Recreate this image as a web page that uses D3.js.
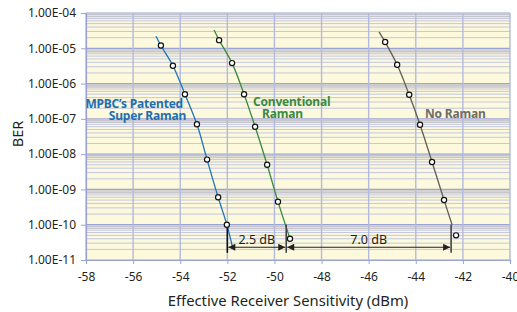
<!DOCTYPE html>
<html>
<head>
<meta charset="utf-8">
<script src="https://cdn.jsdelivr.net/npm/d3@7"></script>
<style>
  body { margin: 0; background: #fff; }
  svg text { font-family: "Noto Sans", "Liberation Sans", sans-serif; fill: #231f20; }
</style>
</head>
<body>
<div id="chart"></div>
<script>
// series values (x = dBm, y = BER)
const superX = [-54.82, -54.31, -53.80, -53.29, -52.86, -52.39, -52.02];
const superY = [1.2e-5, 3.2e-6, 5.0e-7, 7.0e-8, 7.0e-9, 6.0e-10, 1.0e-10];
const convX = [-52.35, -51.80, -51.29, -50.82, -50.31, -49.85, -49.34];
const convY = [1.7e-5, 3.8e-6, 5.0e-7, 6.0e-8, 5.0e-9, 4.5e-10, 4.0e-11];
const noX = [-45.30, -44.79, -44.28, -43.82, -43.31, -42.80, -42.29];
const noY = [1.5e-5, 3.4e-6, 4.8e-7, 6.8e-8, 6.0e-9, 5.0e-10, 5.0e-11];

// where each drawn curve starts and stops (it runs a bit past the markers)
const superEnds = [[-55.03, 2.2e-5], [-51.78, 2.3e-11]];
const convEnds = [[-52.56, 3.3e-5], [-49.34, 4.0e-11]];
const noEnds = [[-45.56, 2.9e-5], [-42.46, 1.0e-10]];

const xTicks = [-58, -56, -54, -52, -50, -48, -46, -44, -42, -40];
const yTicks = [1e-4, 1e-5, 1e-6, 1e-7, 1e-8, 1e-9, 1e-10, 1e-11];

// the dB gaps marked under the curves
const markX = [-52, -49.5, -42.5];
const gapLabels = ['2.5 dB', '7.0 dB'];

const width = 517, height = 312;
const margin = { top: 13, right: 7, bottom: 52, left: 86 };
const iw = width - margin.left - margin.right;
const ih = height - margin.top - margin.bottom;

const x = d3.scaleLinear().domain([-58, -40]).range([0, iw]);
const y = d3.scaleLog().domain([1e-11, 1e-4]).range([ih, 0]);

const svg = d3.select('#chart').append('svg')
  .attr('width', width)
  .attr('height', height);

const g = svg.append('g').attr('transform', `translate(${margin.left},${margin.top})`);

g.append('rect')
  .attr('width', iw).attr('height', ih)
  .attr('fill', '#fdf9dc');

// minor horizontal grid, 2..9 of every decade
const minors = [];
for (let e = -11; e < -4; e++) {
  for (let m = 2; m <= 9; m++) minors.push({ v: m * Math.pow(10, e), m: m });
}
g.append('g').selectAll('line')
  .data(minors)
  .enter().append('line')
  .attr('x1', 0).attr('x2', iw)
  .attr('y1', d => y(d.v)).attr('y2', d => y(d.v))
  .attr('stroke', d => d.m >= 8 ? '#c6c6cc' : '#bcc1e2')
  .attr('stroke-width', d => d.m >= 8 ? 1.5 : 0.9);

// major grid
g.append('g').selectAll('line')
  .data(yTicks)
  .enter().append('line')
  .attr('x1', 0).attr('x2', iw)
  .attr('y1', d => y(d)).attr('y2', d => y(d))
  .attr('stroke', '#9aa3d6')
  .attr('stroke-width', 1.2);

g.append('g').selectAll('line')
  .data(xTicks)
  .enter().append('line')
  .attr('x1', d => x(d)).attr('x2', d => x(d))
  .attr('y1', 0).attr('y2', ih)
  .attr('stroke', '#b4bade')
  .attr('stroke-width', 1.4);

// axes
const xAxis = g.append('g')
  .attr('transform', `translate(0,${ih})`)
  .call(d3.axisBottom(x).tickValues(xTicks).tickSize(4).tickPadding(8).tickFormat(d3.format('d')));
const yAxis = g.append('g')
  .call(d3.axisLeft(y).tickValues(yTicks).tickSize(5).tickPadding(5)
    .tickFormat(d => '1.00E-' + String(-Math.round(Math.log10(d))).padStart(2, '0')));

[xAxis, yAxis].forEach(a => {
  a.select('.domain').attr('stroke', '#9aa3d6').attr('stroke-width', 1.2);
  a.selectAll('.tick line').attr('stroke', '#9aa3d6');
  a.selectAll('.tick text').attr('font-size', 12).style('fill', '#231f20');
});
xAxis.selectAll('.tick text').text(d => '-' + Math.abs(d));

// curves
const line = d3.line()
  .x(d => x(d[0])).y(d => y(d[1]))
  .curve(d3.curveCatmullRom.alpha(0.5));

const series = [
  { xs: superX, ys: superY, ends: superEnds, color: '#1f74b8' },
  { xs: convX, ys: convY, ends: convEnds, color: '#3b8a3e' },
  { xs: noX, ys: noY, ends: noEnds, color: '#5e5e5a' },
];

series.forEach(s => {
  const pts = s.xs.map((v, i) => [v, s.ys[i]]);
  const path = [s.ends[0]].concat(pts);
  const last = pts[pts.length - 1];
  if (s.ends[1][0] !== last[0]) {
    if (s.ends[1][1] < last[1]) path.push(s.ends[1]);
    else path.splice(path.length - 1, 1, s.ends[1]);
  }
  g.append('path')
    .datum(path)
    .attr('d', line)
    .attr('fill', 'none')
    .attr('stroke', s.color)
    .attr('stroke-width', 1.3);
});

// gap markers
const markTop = 1e-10, markBottom = 1.6e-11, arrowY = 2.3e-11;
g.append('g').selectAll('line')
  .data(markX)
  .enter().append('line')
  .attr('x1', d => x(d)).attr('x2', d => x(d))
  .attr('y1', y(markTop)).attr('y2', y(markBottom))
  .attr('stroke', (d, i) => i === 0 ? '#111' : '#444')
  .attr('stroke-width', 1.6);

svg.append('defs').append('marker')
  .attr('id', 'arr')
  .attr('viewBox', '0 0 10 10')
  .attr('refX', 10).attr('refY', 5)
  .attr('markerWidth', 8).attr('markerHeight', 7)
  .attr('markerUnits', 'userSpaceOnUse')
  .attr('orient', 'auto-start-reverse')
  .append('path')
  .attr('d', 'M0,0L10,5L0,10z')
  .attr('fill', '#231f20');

const gaps = gapLabels.map((t, i) => ({ a: markX[i], b: markX[i + 1], t: t }));
g.append('g').selectAll('line')
  .data(gaps)
  .enter().append('line')
  .attr('x1', d => x(d.a) + 1).attr('x2', d => x(d.b) - 1)
  .attr('y1', y(arrowY)).attr('y2', y(arrowY))
  .attr('stroke', '#231f20')
  .attr('stroke-width', 1.1)
  .attr('marker-start', 'url(#arr)')
  .attr('marker-end', 'url(#arr)');

g.append('g').selectAll('text')
  .data(gaps)
  .enter().append('text')
  .attr('x', d => x((d.a + d.b) / 2))
  .attr('y', y(arrowY) - 3)
  .attr('text-anchor', 'middle')
  .attr('font-size', 12.5)
  .text(d => d.t);

// markers
series.forEach(s => {
  g.append('g').selectAll('circle')
    .data(s.xs.map((v, i) => [v, s.ys[i]]))
    .enter().append('circle')
    .attr('cx', d => x(d[0])).attr('cy', d => y(d[1]))
    .attr('r', 2.6)
    .attr('fill', '#fff')
    .attr('stroke', '#111')
    .attr('stroke-width', 1.2);
});

// series names
const names = [
  { lines: ['MPBC\u2019s Patented', 'Super Raman'], xs: [183, 186], ys: [108, 120], color: '#1f6fb0' },
  { lines: ['Conventional', 'Raman'], xs: [253, 262], ys: [106, 118], color: '#3b8a3e', start: true },
  { lines: ['No Raman'], xs: [425], ys: [118], color: '#6d6d68', start: true },
];
names.forEach(n => {
  n.lines.forEach((t, i) => {
    svg.append('text')
      .attr('x', n.xs[i]).attr('y', n.ys[i])
      .attr('text-anchor', n.start ? 'start' : 'end')
      .attr('font-size', 12)
      .attr('font-weight', 'bold')
      .attr('letter-spacing', -0.2)
      .style('fill', n.color)
      .text(t);
  });
});

// axis titles
svg.append('text')
  .attr('x', 288)
  .attr('y', 306)
  .attr('text-anchor', 'middle')
  .attr('font-size', 14.8)
  .text('Effective Receiver Sensitivity (dBm)');

svg.append('text')
  .attr('transform', 'translate(23,134) rotate(-90)')
  .attr('text-anchor', 'middle')
  .attr('font-size', 14.5)
  .text('BER');
</script>
</body>
</html>
